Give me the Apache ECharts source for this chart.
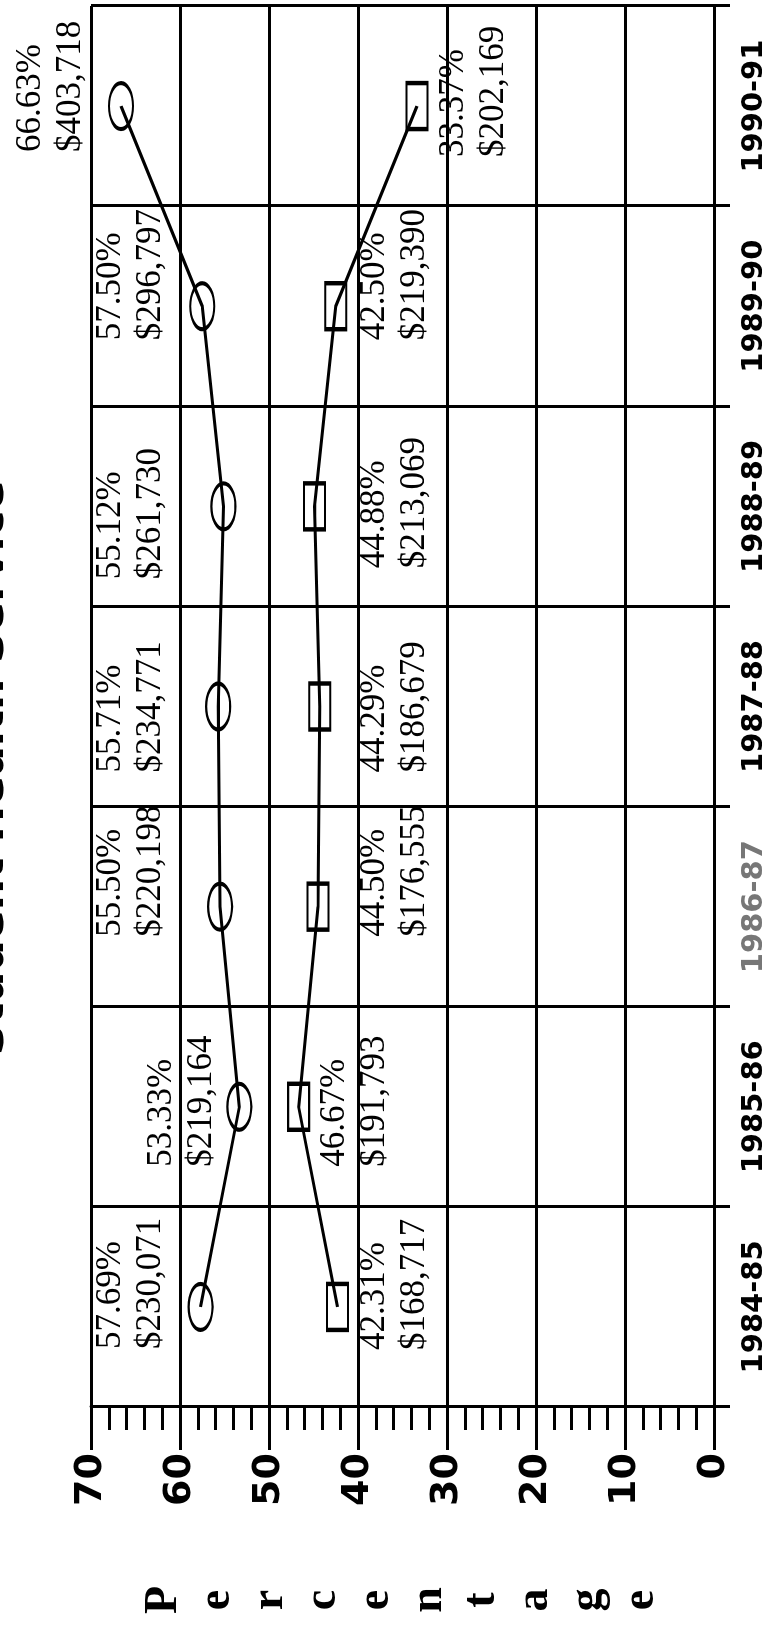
<!DOCTYPE html>
<html>
<head>
<meta charset="utf-8">
<script src="https://cdn.jsdelivr.net/npm/echarts@6/dist/echarts.min.js"></script>
<style>
  html, body { margin: 0; padding: 0; background: #fff; }
  #page { position: relative; width: 776px; height: 1639px; overflow: hidden; background: #fff; }
  /* chart is drawn landscape, then turned a quarter left like the scan */
  #chart {
    position: absolute; left: 0; top: 0;
    width: 1639px; height: 776px;
    transform-origin: 0 0;
    transform: translate(0px, 1639px) rotate(-90deg);
  }
</style>
</head>
<body>
<div id="page"><div id="chart"></div></div>
<script>
// data
const years = ["1984-85", "1985-86", "1986-87", "1987-88", "1988-89", "1989-90", "1990-91"];
const pctA = [57.69, 53.33, 55.5, 55.71, 55.12, 57.5, 66.63];
const pctB = [42.31, 46.67, 44.5, 44.29, 44.88, 42.5, 33.37];
const dollarsA = [230071, 219164, 220198, 234771, 261730, 296797, 403718];
const dollarsB = [168717, 191793, 176555, 186679, 213069, 219390, 202169];
const yTicks = [0, 10, 20, 30, 40, 50, 60, 70];

// label layout: level (axis units) of the box top, then pixel shifts
const labelLevelA = [70, 64.3, 70, 70, 70, 70, 70];
const labelLevelB = [40.4, 44.9, 40.4, 40.4, 40.4, 40.4, 31.5];
const labelDxA = [-42, -60, -30, -66, -73, -34, -46];
const labelDxB = [-43, -60, -30, -66, -62, -34, -51];
const labelDyA = [0, 0, 0, 0, 0, 0, -80];
const labelDyB = [0, 0, 0, 0, 0, 0, 0];

const fmtLabel = (pct, usd) =>
  pct.toFixed(2) + "%\n$" + usd.toLocaleString("en-US");

const ellipse = "path://M0,10 A20,10 0 1,1 40,10 A20,10 0 1,1 0,10 Z";
const black = "#000";
const lw = 3;

const myChart = echarts.init(document.getElementById("chart"));
myChart.setOption({
  animation: false,
  backgroundColor: "#fff",
  grid: { left: 232, right: 6, top: 91, bottom: 62 },
  xAxis: {
    type: "category",
    data: years,
    boundaryGap: true,
    axisLine: { lineStyle: { color: black, width: lw } },
    axisTick: { show: true, interval: 0, length: 16, lineStyle: { color: black, width: lw } },
    splitLine: { show: true, interval: 0, lineStyle: { color: black, width: lw } },
    axisLabel: {
      interval: 0,
      margin: 26,
      fontFamily: "DejaVu Sans",
      fontWeight: "bold",
      fontSize: 29,
      color: (val, idx) => (idx === 2 ? "#777" : black),
    },
  },
  yAxis: {
    type: "value",
    min: yTicks[0],
    max: yTicks[yTicks.length - 1],
    interval: 10,
    name: "P\ne\nr\nc\ne\nn\nt\na\ng\ne",
    nameLocation: "middle",
    nameRotate: 0,
    nameGap: 193,
    nameTextStyle: {
      fontFamily: "Liberation Serif",
      fontWeight: "bold",
      fontSize: 46,
      lineHeight: 53,
      align: "center",
      verticalAlign: "middle",
      color: black,
    },
    axisLine: { show: true, lineStyle: { color: black, width: lw } },
    axisTick: { show: true, length: 43, lineStyle: { color: black, width: lw } },
    minorTick: { show: true, splitNumber: 5, length: 23, lineStyle: { color: black, width: lw } },
    splitLine: { show: true, lineStyle: { color: black, width: lw } },
    axisLabel: {
      margin: 46,
      fontFamily: "DejaVu Sans",
      fontWeight: "bold",
      fontSize: 38,
      color: black,
    },
  },
  series: [
    {
      type: "line",
      data: pctA,
      symbol: ellipse,
      symbolSize: [46, 24],
      showAllSymbol: true,
      lineStyle: { color: black, width: lw },
      itemStyle: { color: "rgba(0,0,0,0)", borderColor: black, borderWidth: lw },
      emphasis: { disabled: true },
      z: 5,
    },
    {
      type: "line",
      data: pctB,
      symbol: "rect",
      symbolSize: [46, 21],
      showAllSymbol: true,
      lineStyle: { color: black, width: lw },
      itemStyle: { color: "rgba(0,0,0,0)", borderColor: black, borderWidth: lw },
      emphasis: { disabled: true },
      z: 5,
    },
  ],
});

// value labels, placed through the chart's own coordinate conversion
const labelTexts = (levels, dx, dy, pcts, usds) =>
  levels.map((lv, i) => {
    const pt = myChart.convertToPixel({ gridIndex: 0 }, [i, lv]);
    return {
      type: "text",
      x: pt[0] + dx[i],
      y: pt[1] + dy[i],
      z: 10,
      silent: true,
      style: {
        text: fmtLabel(pcts[i], usds[i]),
        align: "left",
        verticalAlign: "top",
        lineHeight: 40,
        font: "35px 'Liberation Serif'",
        fill: black,
      },
    };
  });

myChart.setOption({
  graphic: [
    {
      // title sits mostly off the top edge, as in the scan
      type: "text",
      x: 871,
      y: 14,
      silent: true,
      style: {
        text: "Student Health Service",
        align: "center",
        verticalAlign: "bottom",
        font: "bold 44px 'DejaVu Sans'",
        fill: black,
      },
    },
    ...labelTexts(labelLevelA, labelDxA, labelDyA, pctA, dollarsA),
    ...labelTexts(labelLevelB, labelDxB, labelDyB, pctB, dollarsB),
  ],
});
</script>
</body>
</html>
